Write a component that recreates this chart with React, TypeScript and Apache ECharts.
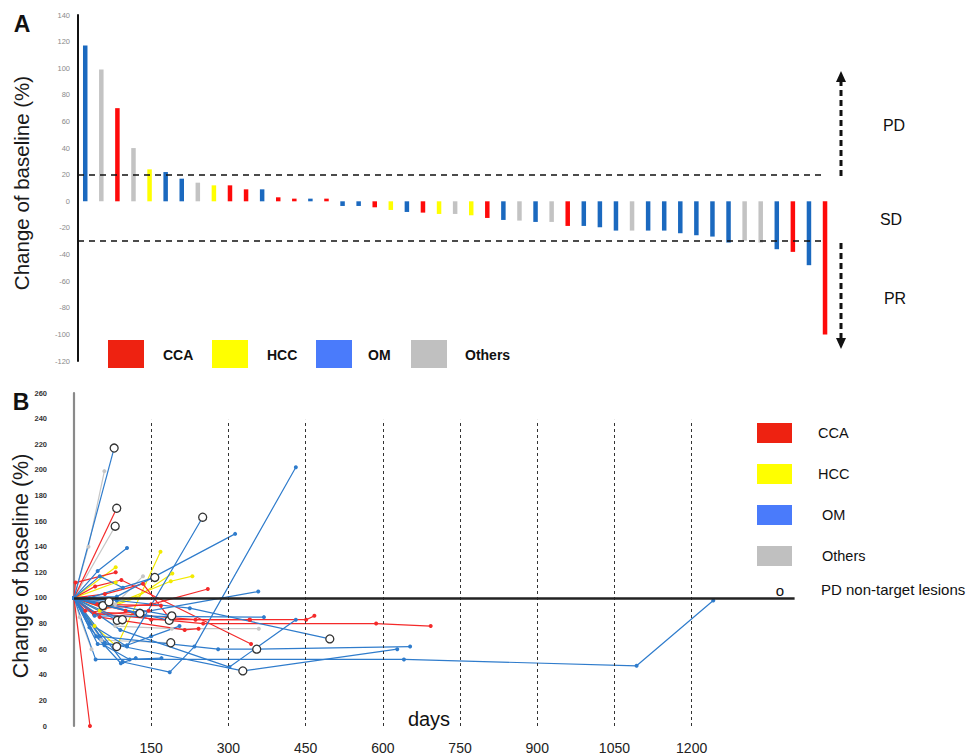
import React, { useEffect, useRef } from "react";
import * as echarts from "echarts";

const FONT = "'Liberation Sans', Arial, Helvetica, sans-serif";

// ---------- Panel A: best change from baseline (%) ----------
const waterfallValues = [
  117, 99, 70, 40, 24, 22, 17, 14, 12, 12, 9, 9, 3, 2, 2, 2,
  -3.5, -3.5, -4.5, -6.5, -8, -8.5, -9.5, -9.5, -10.5, -12.5, -14, -14.5, -15.5, -15.5,
  -18.5, -18.5, -19.5, -22, -22, -22, -22, -24, -25.5, -26.5, -31, -29.5, -31, -36, -38, -48, -100,
];
const waterfallTypes = [
  "OM", "Others", "CCA", "Others", "HCC", "OM", "OM", "Others", "HCC", "CCA", "CCA", "OM", "CCA", "CCA", "OM", "CCA",
  "OM", "OM", "CCA", "HCC", "OM", "CCA", "HCC", "Others", "HCC", "CCA", "OM", "Others", "OM", "Others",
  "CCA", "OM", "OM", "OM", "Others", "OM", "OM", "OM", "OM", "OM", "OM", "Others", "Others", "OM", "CCA", "OM", "CCA",
];
const thresholdLines = [20, -30];
const legendLabels = ["CCA", "HCC", "OM", "Others"];

// ---------- Panel B: change from baseline over time ----------
const dayTicks = [150, 300, 450, 600, 750, 900, 1050, 1200];

const ccaCourses = [
  [[0, 100], [31, 0]],
  [[0, 100], [83, 170]],
  [[0, 100], [3, 112], [81, 120]],
  [[0, 100], [41, 109], [92, 114], [344, 64]],
  [[0, 100], [60, 92], [150, 95], [260, 107]],
  [[0, 100], [100, 90], [150, 83], [341, 83], [451, 83], [467, 86]],
  [[0, 100], [40, 88], [251, 80], [587, 80], [693, 78]],
  [[0, 100], [50, 85], [215, 75], [242, 76]],
  [[0, 100], [22, 90], [236, 83], [342, 83]],
  [[0, 100], [45, 95], [169, 94]],
  [[0, 100], [60, 103], [134, 111], [186, 84]],
  [[0, 100], [39, 87], [145, 90]],
];
const hccCourses = [
  [[0, 100], [81, 124]],
  [[0, 100], [81, 112]],
  [[0, 100], [50, 90], [120, 100], [191, 119]],
  [[0, 100], [60, 92], [188, 113], [230, 117]],
  [[0, 100], [40, 78], [83, 62], [168, 136]],
];
const omCourses = [
  [[0, 100], [78, 217]],
  [[0, 100], [46, 121], [103, 139]],
  [[0, 100], [50, 117], [95, 108]],
  [[0, 100], [30, 80], [103, 62], [250, 163]],
  [[0, 100], [83, 101], [313, 150]],
  [[0, 100], [95, 50], [186, 42], [234, 62], [431, 202]],
  [[0, 100], [42, 52], [641, 52], [1093, 47], [1242, 98]],
  [[0, 100], [90, 75], [302, 46], [431, 83]],
  [[0, 100], [60, 65], [328, 43], [628, 60]],
  [[0, 100], [50, 70], [280, 60], [355, 60], [653, 62]],
  [[0, 100], [83, 98], [225, 92], [497, 68]],
  [[0, 100], [120, 88], [358, 105]],
  [[0, 100], [40, 86], [369, 85]],
  [[0, 100], [30, 100], [157, 116]],
  [[0, 100], [56, 94]],
  [[0, 100], [68, 97]],
  [[0, 100], [84, 82.5]],
  [[0, 100], [94, 83]],
  [[0, 100], [128, 88]],
  [[0, 100], [185, 82.5]],
  [[0, 100], [190, 86]],
  [[0, 100], [46, 64], [103, 63], [150, 70], [205, 78]],
  [[0, 100], [43, 70], [91, 49], [120, 53]],
  [[0, 100], [30, 77], [59, 63], [108, 52], [170, 53]],
];
const othersCourses = [
  [[0, 100], [28, 140], [59, 199]],
  [[0, 100], [80, 156]],
  [[0, 100], [80, 95], [134, 117]],
  [[0, 100], [11, 85], [34, 60]],
  [[0, 100], [80, 78], [190, 76], [359, 76]],
  [[0, 100], [53, 67], [188, 65]],
];
const pdNonTarget = [
  [78, 217], [83, 170], [80, 156], [250, 163], [157, 116], [56, 94], [68, 97], [84, 82.5], [94, 83],
  [128, 88], [185, 82.5], [190, 86], [83, 62], [188, 65], [355, 60], [328, 43], [497, 68],
];

const barColors: Record<string, string> = { CCA: "#fe0a0a", HCC: "#ffff00", OM: "#1b69bf", Others: "#c3c3c3" };
const lineColors: Record<string, string> = { CCA: "#f42a2a", HCC: "#f2ea00", OM: "#2f7ccc", Others: "#c6c6c6" };
const legendColors: Record<string, string> = { CCA: "#ee2211", HCC: "#ffff00", OM: "#4a7bfb", Others: "#c0c0c0" };

export default function App() {
  const ref = useRef<HTMLDivElement>(null);
  useEffect(() => {
    if (!ref.current) return;
    const chart = echarts.init(ref.current, undefined, { renderer: "svg" });
    const n = waterfallValues.length;
    const series: any[] = [];

    series.push({
      type: "bar",
      xAxisIndex: 0,
      yAxisIndex: 0,
      barWidth: 4.5,
      silent: true,
      data: waterfallValues.map((v, i) => ({ value: [i, v], itemStyle: { color: barColors[waterfallTypes[i]] } })),
      markLine: {
        silent: true,
        symbol: ["none", "none"],
        label: { show: false },
        lineStyle: { color: "#111", type: [6, 5], width: 1.6 },
        data: thresholdLines.map((t) => ({ yAxis: t })),
      },
      z: 2,
    });
    series.push({
      type: "line",
      xAxisIndex: 0,
      yAxisIndex: 0,
      data: [],
      markLine: {
        silent: true,
        symbol: ["none", "none"],
        label: { show: false },
        lineStyle: { color: "#111", type: "solid", width: 2 },
        data: [[{ coord: [-0.07, 0] }, { coord: [n - 1 + 0.07, 0] }]],
      },
      z: 3,
    });

    // Panel B reference lines
    series.push({
      type: "line",
      xAxisIndex: 1,
      yAxisIndex: 1,
      data: [],
      markLine: {
        silent: true,
        symbol: ["none", "none"],
        label: { show: false },
        lineStyle: { color: "#333", type: [3, 3], width: 1 },
        data: dayTicks.map((d) => [{ coord: [d, 0] }, { coord: [d, 239] }]),
      },
      z: 1,
    });
    series.push({
      type: "line",
      xAxisIndex: 1,
      yAxisIndex: 1,
      data: [],
      markLine: {
        silent: true,
        symbol: ["none", "none"],
        label: { show: false },
        lineStyle: { color: "#222", type: "solid", width: 2.5 },
        data: [{ yAxis: 100 }],
      },
      z: 2,
    });

    const groups: [string, number[][][]][] = [
      ["Others", othersCourses],
      ["HCC", hccCourses],
      ["CCA", ccaCourses],
      ["OM", omCourses],
    ];
    groups.forEach(([name, courses]) => {
      courses.forEach((c) => {
        series.push({
          type: "line",
          xAxisIndex: 1,
          yAxisIndex: 1,
          data: c,
          symbol: "circle",
          symbolSize: 4,
          showSymbol: true,
          silent: true,
          lineStyle: { color: lineColors[name], width: 1.2 },
          itemStyle: { color: lineColors[name] },
          z: 3,
        });
      });
    });
    series.push({
      type: "scatter",
      xAxisIndex: 1,
      yAxisIndex: 1,
      data: pdNonTarget,
      symbol: "circle",
      symbolSize: 8,
      silent: true,
      itemStyle: { color: "#ffffff", borderColor: "#333", borderWidth: 1.3, opacity: 1 },
      z: 5,
    });

    const graphic: any[] = [];
    const txt = (x: number, y: number, text: string, size: number, opts: any = {}) => ({
      type: "text",
      x,
      y,
      rotation: opts.rotation || 0,
      style: {
        text,
        font: `${opts.bold ? "bold " : ""}${size}px ${FONT}`,
        fill: opts.color || "#111",
        align: opts.align || "left",
        verticalAlign: "middle",
      },
      silent: true,
    });
    graphic.push(txt(22, 24, "A", 23, { bold: true, align: "center" }));
    graphic.push(txt(21, 402, "B", 23, { bold: true, align: "center" }));
    graphic.push(txt(21, 183, "Change of baseline (%)", 20.5, { align: "center", rotation: Math.PI / 2, color: "#1a1a1a" }));
    graphic.push(txt(21, 566, "Change of baseline (%)", 21.5, { align: "center", rotation: Math.PI / 2, color: "#1a1a1a" }));
    graphic.push(txt(894, 125, "PD", 16, { align: "center" }));
    graphic.push(txt(891, 219, "SD", 16, { align: "center" }));
    graphic.push(txt(895, 298, "PR", 16, { align: "center" }));
    graphic.push(txt(429, 719, "days", 20, { align: "center" }));

    // arrows
    graphic.push({ type: "line", shape: { x1: 841, y1: 176, x2: 841, y2: 82 }, style: { stroke: "#111", lineWidth: 3, lineDash: [6, 4] }, silent: true });
    graphic.push({ type: "polygon", shape: { points: [[836, 82], [846, 82], [841, 71]] }, style: { fill: "#111" }, silent: true });
    graphic.push({ type: "line", shape: { x1: 841, y1: 243, x2: 841, y2: 338 }, style: { stroke: "#111", lineWidth: 3, lineDash: [6, 4] }, silent: true });
    graphic.push({ type: "polygon", shape: { points: [[836, 338], [846, 338], [841, 349]] }, style: { fill: "#111" }, silent: true });

    // legend A
    const legAx = [108, 212, 316, 411];
    const legAtx = [163, 267, 368, 465];
    legendLabels.forEach((l, i) => {
      graphic.push({ type: "rect", shape: { x: legAx[i], y: 340, width: 36, height: 28 }, style: { fill: legendColors[l] }, silent: true });
      graphic.push(txt(legAtx[i], 355, l, 14, { bold: true }));
    });
    // legend B
    const legBy = [423, 464, 505, 546];
    const legBtx = [818, 818, 822, 822];
    legendLabels.forEach((l, i) => {
      graphic.push({ type: "rect", shape: { x: 757, y: legBy[i], width: 35, height: 20 }, style: { fill: legendColors[l] }, silent: true });
      graphic.push(txt(legBtx[i], legBy[i] + 10, l, 14.5));
    });
    graphic.push(txt(780, 590, "o", 15, { align: "center" }));
    graphic.push(txt(821, 589, "PD non-target lesions", 15));

    chart.setOption({
      animation: false,
      textStyle: { fontFamily: FONT },
      grid: [
        { left: 78, top: 15, width: 748, height: 346 },
        { left: 74, top: 393, width: 720.6, height: 333 },
      ],
      xAxis: [
        { gridIndex: 0, type: "value", min: -0.45, max: n - 1 + 0.06, show: false },
        {
          gridIndex: 1,
          type: "value",
          min: 0,
          max: 1400,
          interval: 150,
          axisLine: { show: false },
          axisTick: { show: false },
          splitLine: { show: false },
          axisLabel: {
            formatter: (v: number) => (dayTicks.includes(v) ? String(v) : ""),
            fontSize: 14,
            color: "#222",
            margin: 15,
            fontFamily: FONT,
          },
        },
      ],
      yAxis: [
        {
          gridIndex: 0,
          type: "value",
          min: -120,
          max: 140,
          interval: 20,
          axisLine: { show: true, onZero: false, lineStyle: { color: "#111", width: 2 } },
          axisTick: { show: false },
          splitLine: { show: false },
          axisLabel: { fontSize: 7.5, color: "#8a8a8a", margin: 8, fontFamily: FONT },
        },
        {
          gridIndex: 1,
          type: "value",
          min: 0,
          max: 260,
          interval: 20,
          axisLine: { show: true, onZero: false, lineStyle: { color: "#8a8a8a", width: 2.2 } },
          axisTick: { show: false },
          splitLine: { show: false },
          axisLabel: { fontSize: 7.5, fontWeight: "bold", color: "#333", margin: 27, fontFamily: FONT },
        },
      ],
      series,
      graphic,
    });
    return () => chart.dispose();
  }, []);
  return <div ref={ref} style={{ position: "fixed", left: 0, top: 0, width: 969, height: 755, background: "#fff" }} />;
}
